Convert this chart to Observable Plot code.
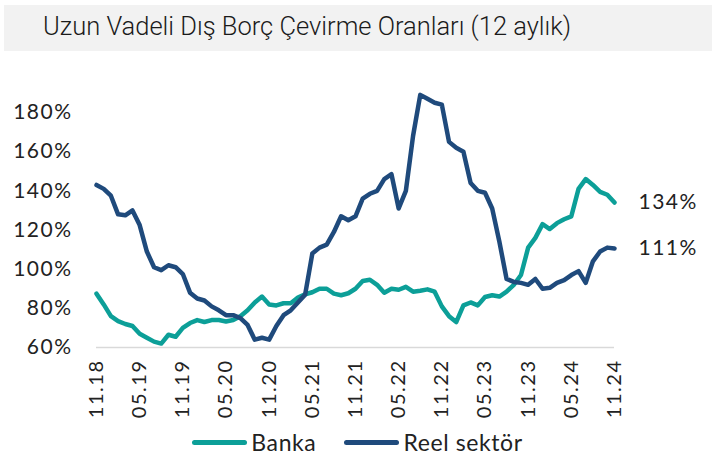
<!DOCTYPE html>
<html>
<head>
<meta charset="utf-8">
<script src="https://cdn.jsdelivr.net/npm/d3@7"></script>
<script src="https://cdn.jsdelivr.net/npm/@observablehq/plot@0.6"></script>
<style>
  body { margin:0; background:#fff; width:715px; height:473px; position:relative; overflow:hidden; }
  #title { position:absolute; left:4px; top:5px; width:708px; height:46px; background:#f2f2f2; }
  #title span { position:absolute; left:39px; top:6px; font-family:"Roboto",sans-serif; font-weight:300; font-size:25.5px; color:#1a1a1a; }
  #chart { position:absolute; left:0; top:55px; }
  #legend { position:absolute; left:0; top:428px; width:715px; display:flex; justify-content:center; align-items:center; font-family:"Lato","Open Sans",sans-serif; font-weight:400; font-size:23px; letter-spacing:0.6px; color:#222; }
  .sw { display:inline-block; width:55px; height:5px; border-radius:3px; margin-right:4px; }
  .item { display:flex; align-items:center; margin:0 14px; }
  #chart text { font-weight:400; letter-spacing:1.5px; }
</style>
</head>
<body>
<div id="title"><span>Uzun Vadeli Dış Borç Çevirme Oranları (12 aylık)</span></div>
<div id="chart"></div>
<div id="legend"></div>
<script>
const tickLabels = ["11.18","05.19","11.19","05.20","11.20","05.21","11.21","05.22","11.22","05.23","11.23","05.24","11.24"];
const yTicks = [60, 80, 100, 120, 140, 160, 180];
const seriesNames = ["Banka", "Reel sektör"];
const seriesColors = ["#0c9f98", "#1f4a7c"];
// monthly values, 11.18 .. 11.24
const banka = [87.5,82,76,73.5,72,71,67,65,63,62,66.5,65.5,70,72.5,74,73,74,74,73.3,74,76,79,83,86,82,81.5,82.6,82.6,85.5,87.2,88.2,90,90,87.5,86.7,87.7,90,94,94.6,92,88,90,89.5,91,88.5,89,89.7,88.5,81,76,73,81.5,83,81.5,85.8,86.7,86,88.5,92,97,111,116,123,120.5,123.5,125.5,127,141,146,143,139.5,138,134];
const reel = [143,141,137.5,128,127.5,130,122.5,109,101,99.5,102,101,97.5,88,85,84,81,79,76.5,76.5,75,71.5,64,65,64,71,76.5,79,83,87,108,111,112.5,119,127,125,127,136,138.5,140,146,148.5,131,140,168,189,187,185,184,165,162,160,144,140,139,131,114,95,93.5,93,92,95,90,90.5,93,94.4,97,99,93,104,109,111,110.6];
const endLabels = ["134%", "111%"];

const data = [];
[banka, reel].forEach((arr, s) => arr.forEach((v, i) => data.push({i, v, s: seriesNames[s]})));
const ends = [banka, reel].map((arr, s) => ({i: arr.length - 1, v: arr[arr.length - 1], t: endLabels[s]}));
const tickIdx = tickLabels.map((_, k) => k * 6);

const chart = Plot.plot({
  width: 715, height: 365,
  marginLeft: 96, marginRight: 101, marginTop: 57, marginBottom: 73,
  style: {fontFamily: "Lato, 'Open Sans', sans-serif", color: "#222", background: "transparent"},
  x: {domain: [0, 72], axis: null},
  y: {domain: [60, 180], axis: null},
  color: {domain: seriesNames, range: seriesColors},
  marks: [
    Plot.ruleY([60], {stroke: "#d9d9d9", strokeWidth: 1.5}),
    Plot.axisY({ticks: yTicks, tickSize: 0, tickPadding: 24, tickFormat: d => d + "%", fontSize: 21, label: null}),
    Plot.axisX({ticks: tickIdx, tickFormat: d => tickLabels[d / 6], tickRotate: -90, tickSize: 0, tickPadding: 12, fontSize: 20, label: null}),
    Plot.line(data, {x: "i", y: "v", z: "s", stroke: "s", strokeWidth: 4.5, strokeLinejoin: "round", strokeLinecap: "round"}),
    Plot.text(ends, {x: "i", y: "v", text: "t", dx: 24, textAnchor: "start", fontSize: 21, fill: "#222"})
  ]
});
document.getElementById("chart").appendChild(chart);

const legend = document.getElementById("legend");
seriesNames.forEach((n, k) => {
  const it = document.createElement("div");
  it.className = "item";
  it.innerHTML = `<span class="sw" style="background:${seriesColors[k]}"></span><span>${n}</span>`;
  legend.appendChild(it);
});
</script>
</body>
</html>
